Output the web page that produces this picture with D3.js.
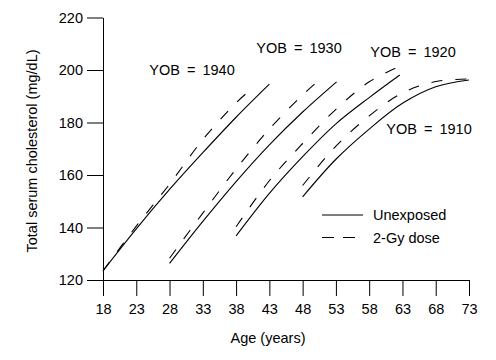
<!DOCTYPE html>
<html><head><meta charset="utf-8">
<script src="https://cdn.jsdelivr.net/npm/d3@7"></script>
<style>
html,body{margin:0;padding:0;background:#fff;}
text{font-family:"Liberation Sans",Arial,sans-serif;fill:#000;}
</style></head>
<body><svg id="chart" width="496" height="360"></svg>
<script>
// ---- data ----
const xTicks = [18,23,28,33,38,43,48,53,58,63,68,73];
const yTicks = [120,140,160,180,200,220];
const cohorts = ["YOB = 1940","YOB = 1930","YOB = 1920","YOB = 1910"];
// Unexposed (solid)
const ageU1940 = [18,23,28,33,38,43];
const cholU1940 = [123.5,139.5,154.5,168.5,182,194.6];
const ageU1930 = [28,33,38,43,48,53.1];
const cholU1930 = [126.3,142.3,157.5,171.5,184,195.5];
const ageU1920 = [38,43,48,53,58,62.6];
const cholU1920 = [136.8,153,167,179.5,189.5,198.1];
const ageU1910 = [48,53,58,63,68,73];
const cholU1910 = [151.7,166,177.5,187.3,193.6,196.2];
// 2-Gy dose (dashed)
const ageD1940 = [18,23,28,33,38,40.8];
const cholD1940 = [123.5,140.5,156.5,173.5,187.5,193.8];
const ageD1930 = [28,33,38,43,48,50.8];
const cholD1930 = [128.3,145.5,162.3,177.5,190.5,196.8];
const ageD1920 = [38,43,48,53,58,62.5];
const cholD1920 = [140.3,157.8,172,185,195.5,201.3];
const ageD1910 = [48,53,58,63,68,73];
const cholD1910 = [156,171,182.5,191.3,195.6,196.6];
const legendLabels = ["Unexposed","2-Gy dose"];

const series = [
  {ages:ageU1940, chol:cholU1940, dashed:false},
  {ages:ageD1940, chol:cholD1940, dashed:true},
  {ages:ageU1930, chol:cholU1930, dashed:false},
  {ages:ageD1930, chol:cholD1930, dashed:true},
  {ages:ageU1920, chol:cholU1920, dashed:false},
  {ages:ageD1920, chol:cholD1920, dashed:true},
  {ages:ageU1910, chol:cholU1910, dashed:false},
  {ages:ageD1910, chol:cholD1910, dashed:true}
];

// ---- layout ----
const svg = d3.select("#chart");
const x = d3.scaleLinear().domain([18,73]).range([103,469]);
const y = d3.scaleLinear().domain([120,220]).range([280,17.5]);

const xAxis = d3.axisBottom(x).tickValues(xTicks).tickSize(16).tickSizeOuter(0).tickPadding(8);
const yAxis = d3.axisLeft(y).tickValues(yTicks).tickSize(16).tickSizeOuter(0).tickPadding(4);

const gx = svg.append("g").attr("transform","translate(0,280)").call(xAxis);
const gy = svg.append("g").attr("transform","translate(103,0)").call(yAxis);
[gx,gy].forEach(g=>{
  g.selectAll("path,line").attr("stroke","#000").attr("stroke-width",1);
  g.selectAll("text").attr("font-size",14.5).attr("font-family","Liberation Sans, Arial, sans-serif").attr("fill","#000");
});

const line = d3.line().x(d=>x(d[0])).y(d=>y(d[1])).curve(d3.curveCatmullRom.alpha(0.5));
series.forEach(s=>{
  svg.append("path")
    .datum(s.ages.map((a,i)=>[a,s.chol[i]]))
    .attr("d",line)
    .attr("fill","none")
    .attr("stroke","#000")
    .attr("stroke-width",1.1)
    .attr("stroke-dasharray", s.dashed ? "11,13" : null);
});

// cohort labels
const labelPos = [[192,70],[299,48],[413,52],[429,129]];
cohorts.forEach((c,i)=>{
  svg.append("text").attr("x",labelPos[i][0]).attr("y",labelPos[i][1])
    .attr("text-anchor","middle").attr("dominant-baseline","central")
    .attr("font-size",14.5).attr("word-spacing",3).text(c);
});

// legend
svg.append("line").attr("x1",322).attr("x2",363).attr("y1",215).attr("y2",215)
  .attr("stroke","#000").attr("stroke-width",1.1);
svg.append("line").attr("x1",322).attr("x2",355).attr("y1",237.5).attr("y2",237.5)
  .attr("stroke","#000").attr("stroke-width",1.1).attr("stroke-dasharray","12,9");
legendLabels.forEach((t,i)=>{
  svg.append("text").attr("x",373).attr("y",215+i*22.5).attr("dominant-baseline","central")
    .attr("font-size",14.5).text(t);
});

// axis titles
svg.append("text").attr("x",268).attr("y",338).attr("text-anchor","middle")
  .attr("dominant-baseline","central").attr("font-size",14.5).text("Age (years)");
svg.append("text").attr("transform","translate(32,151) rotate(-90)").attr("text-anchor","middle")
  .attr("dominant-baseline","central").attr("font-size",14.5).text("Total serum cholesterol (mg/dL)");
</script></body></html>
